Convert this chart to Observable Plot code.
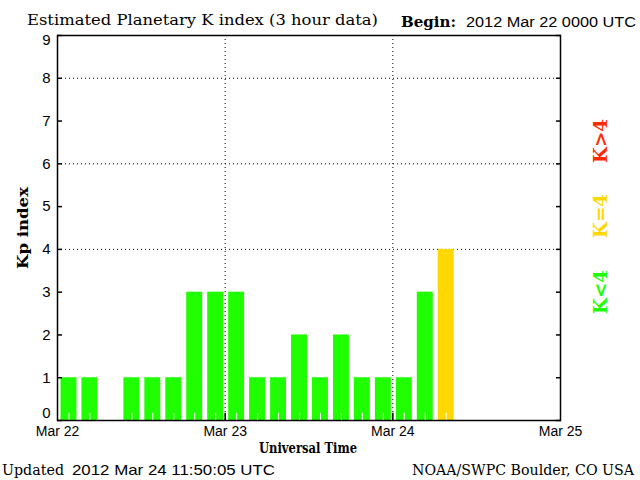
<!DOCTYPE html>
<html>
<head>
<meta charset="utf-8">
<script src="https://cdn.jsdelivr.net/npm/d3@7"></script>
<script src="https://cdn.jsdelivr.net/npm/@observablehq/plot@0.6"></script>
<style>
  html, body { margin: 0; padding: 0; background: white; }
  #chart svg { display: block; }
</style>
</head>
<body>
<div id="chart"></div>
<script>
// ---- data ----
const beginDate = "2012-03-22T00:00:00Z";
const endDate = "2012-03-25T00:00:00Z";
const binHours = 3;
const kpValues = [1, 1, 0, 1, 1, 1, 3, 3, 3, 1, 1, 2, 1, 2, 1, 1, 1, 3, 4];
const yTicks = [0, 1, 2, 3, 4, 5, 6, 7, 8, 9];
const gridLevels = [4, 6, 8];
const dayTicks = ["2012-03-22", "2012-03-23", "2012-03-24", "2012-03-25"];
const dayGrid = ["2012-03-23", "2012-03-24"];
const titleText = "Estimated Planetary K index (3 hour data)";
const beginLabel = "Begin:";
const beginText = "2012 Mar 22 0000 UTC";
const updatedLabel = "Updated";
const updatedText = "2012 Mar 24 11:50:05 UTC";
const creditText = "NOAA/SWPC Boulder, CO USA";
const xLabel = "Universal Time";
const yLabel = "Kp index";
const legendItems = ["K<4", "K=4", "K>4"];
const colors = {low: "#20ff00", mid: "#ffd800", high: "#ff2a00"};

// ---- build table ----
const t0 = new Date(beginDate);
const H = 3600 * 1000;
const bars = kpValues.map((kp, i) => ({
  start: new Date(+t0 + i * binHours * H),
  end: new Date(+t0 + (i + 1) * binHours * H),
  mid: new Date(+t0 + (i + 0.5) * binHours * H),
  kp,
  level: kp < 4 ? "low" : kp === 4 ? "mid" : "high"
}));
const days = dayTicks.map(d => new Date(d + "T00:00:00Z"));
const gridDays = dayGrid.map(d => new Date(d + "T00:00:00Z"));
const fmt = d3.utcFormat("%b %d");

const sans = "'Liberation Sans', Arial, sans-serif";
const serif = "'DejaVu Serif', serif";

const chart = Plot.plot({
  width: 640,
  height: 480,
  marginTop: 35,
  marginLeft: 57,
  marginRight: 80,
  marginBottom: 60,
  style: {background: "white", color: "black", fontFamily: sans, fontSize: "15px"},
  x: {type: "utc", domain: [new Date(beginDate), new Date(endDate)], axis: null},
  y: {domain: [0, 9], axis: null},
  marks: [
    Plot.ruleY(gridLevels, {stroke: "black", strokeDasharray: "1,3"}),
    Plot.ruleX(gridDays, {stroke: "black", strokeDasharray: "1,3"}),
    Plot.rectY(bars, {x1: "start", x2: "end", y: "kp", fill: d => colors[d.level], insetLeft: 3.5, insetRight: 1.5}),
    Plot.ruleX(bars, {x: "mid", y1: 0, y2: 0.17, stroke: "white", strokeWidth: 1, dx: 1}),
    Plot.ruleX(gridDays, {y1: 0, y2: 0.17, stroke: "black", strokeWidth: 1.5}),
    // inward ticks on left and right
    Plot.axisY(yTicks, {anchor: "left", tickSize: 5, dx: 5, tickFormat: () => "", label: null, strokeWidth: 1.5}),
    Plot.axisY(yTicks, {anchor: "right", tickSize: 5, dx: -5, tickFormat: () => "", label: null, strokeWidth: 1.5}),
    // y labels
    Plot.text(yTicks.filter(d => d > 0 && d < 9), {y: d => d, frameAnchor: "left", textAnchor: "end", dx: -7, text: d => String(d), fontSize: 15}),
    Plot.text(yTicks.filter(d => d === 9), {y: d => d, frameAnchor: "left", textAnchor: "end", dx: -7, dy: 5, text: d => String(d), fontSize: 15}),
    Plot.text(yTicks.filter(d => d === 0), {y: d => d, frameAnchor: "left", textAnchor: "end", dx: -7, dy: -7, text: d => String(d), fontSize: 15}),
    // x labels
    Plot.text(days, {x: d => d, frameAnchor: "bottom", dy: 15, text: d => fmt(d), fontSize: 14}),
    Plot.frame({stroke: "black", strokeWidth: 1.5})
  ]
});

document.getElementById("chart").append(chart);

const svg = d3.select(chart);
function addText(str, x, y, opts = {}) {
  const t = svg.append("text")
    .attr("x", x).attr("y", y)
    .attr("font-family", opts.family || serif)
    .attr("font-size", opts.size || 15)
    .attr("font-weight", opts.weight || "normal")
    .attr("fill", opts.fill || "black")
    .attr("text-anchor", opts.anchor || "start")
    .text(str);
  if (opts.length) t.attr("textLength", opts.length).attr("lengthAdjust", "spacingAndGlyphs");
  if (opts.rotate) t.attr("transform", `rotate(-90, ${x}, ${y})`);
  return t;
}

addText(titleText, 27, 25, {size: 15, length: 351});
addText(beginLabel, 401, 27, {size: 14, weight: "bold", length: 55});
addText(beginText, 466, 27, {family: sans, size: 14, length: 170});
addText(updatedLabel, 2, 475, {size: 15, length: 62});
addText(updatedText, 72, 475, {family: sans, size: 15, length: 203});
addText(creditText, 412, 475, {size: 14, length: 222});
addText(xLabel, 308, 453, {size: 14, weight: "bold", anchor: "middle", length: 98});
addText(yLabel, 28, 228, {size: 15, weight: "bold", anchor: "middle", length: 82, rotate: true});
const legendY = [292, 216, 141];
const legendColors = [colors.low, colors.mid, colors.high];
legendItems.forEach((s, i) => {
  addText(s, 607, legendY[i], {size: 19, weight: "bold", anchor: "middle", fill: legendColors[i], length: 44, rotate: true});
});
</script>
</body>
</html>
